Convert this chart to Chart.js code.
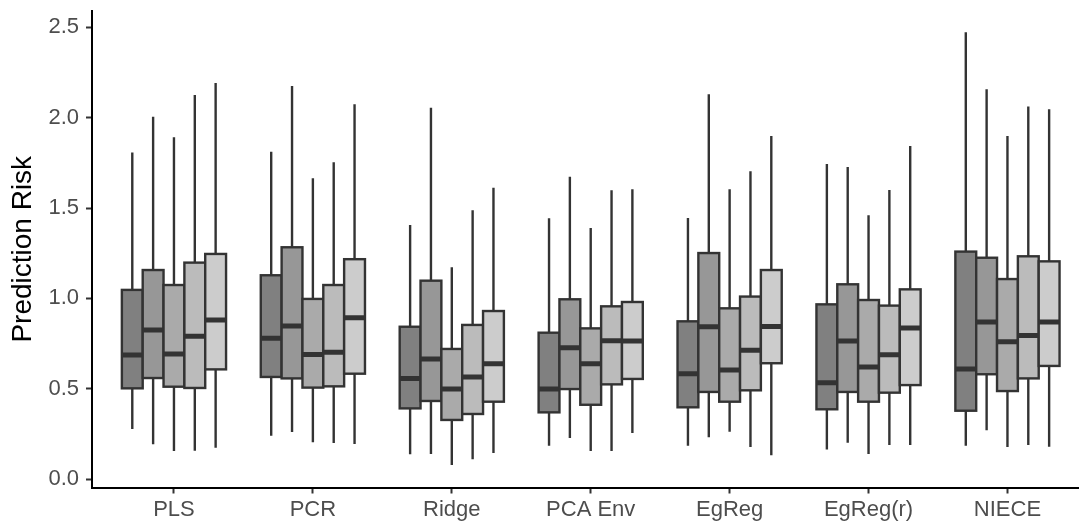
<!DOCTYPE html>
<html>
<head>
<meta charset="utf-8">
<script src="https://cdn.jsdelivr.net/npm/chart.js@4"></script>
<style>
  body { margin: 0; background: #fff; overflow: hidden; }
  #wrap { width: 1079px; height: 525px; }
</style>
</head>
<body>
<div id="wrap"><canvas id="chart" width="1079" height="525"></canvas></div>
<script>
// Methods on the x axis
const categories = ['PLS', 'PCR', 'Ridge', 'PCA Env', 'EgReg', 'EgReg(r)', 'NIECE'];
const yTicks = [0, 0.5, 1.0, 1.5, 2.0, 2.5];

// each entry: [lower whisker, Q1, median, Q3, upper whisker] per method
const series1 = [
  [0.277, 0.502, 0.687, 1.047, 1.807],
  [0.240, 0.565, 0.779, 1.128, 1.812],
  [0.137, 0.391, 0.557, 0.843, 1.406],
  [0.184, 0.369, 0.498, 0.810, 1.443],
  [0.184, 0.397, 0.583, 0.873, 1.445],
  [0.164, 0.386, 0.533, 0.967, 1.744],
  [0.184, 0.378, 0.609, 1.259, 2.473]
];
const series2 = [
  [0.192, 0.559, 0.825, 1.157, 2.006],
  [0.260, 0.557, 0.847, 1.283, 2.176],
  [0.138, 0.432, 0.664, 1.098, 2.056],
  [0.227, 0.498, 0.727, 0.995, 1.674],
  [0.231, 0.482, 0.843, 1.251, 2.130],
  [0.201, 0.482, 0.764, 1.078, 1.728],
  [0.270, 0.580, 0.869, 1.225, 2.158]
];
const series3 = [
  [0.155, 0.511, 0.692, 1.074, 1.892],
  [0.203, 0.506, 0.690, 0.997, 1.665],
  [0.078, 0.327, 0.498, 0.720, 1.172],
  [0.155, 0.411, 0.638, 0.834, 1.390],
  [0.262, 0.428, 0.604, 0.945, 1.604],
  [0.138, 0.428, 0.620, 0.991, 1.460],
  [0.177, 0.487, 0.760, 1.107, 1.899]
];
const series4 = [
  [0.157, 0.504, 0.790, 1.198, 2.126],
  [0.199, 0.513, 0.702, 1.074, 1.754],
  [0.109, 0.360, 0.565, 0.853, 1.488],
  [0.155, 0.524, 0.766, 0.956, 1.598],
  [0.177, 0.491, 0.713, 1.010, 1.704],
  [0.188, 0.478, 0.688, 0.960, 1.600],
  [0.188, 0.557, 0.794, 1.233, 2.062]
];
const series5 = [
  [0.173, 0.607, 0.880, 1.246, 2.193],
  [0.194, 0.583, 0.893, 1.217, 2.075],
  [0.144, 0.428, 0.638, 0.930, 1.613],
  [0.255, 0.554, 0.764, 0.980, 1.604],
  [0.131, 0.641, 0.845, 1.157, 1.899],
  [0.188, 0.520, 0.836, 1.050, 1.844],
  [0.179, 0.626, 0.869, 1.205, 2.047]
];

const allSeries = [series1, series2, series3, series4, series5];
const fills = ['#808080', '#979797', '#aaaaaa', '#bbbbbb', '#cccccc'];
const outline = '#333333';
const dodge = 0.75;               // total width of a group, in category units
const boxWidth = dodge / allSeries.length;

// build one dataset per series, points sit at the dodged x position
const datasets = allSeries.map((s, j) => ({
  label: 'Series ' + (j + 1),
  data: s.map((st, i) => ({
    x: i + 1 + (j - (allSeries.length - 1) / 2) * boxWidth,
    y: st[2],
    stats: st
  })),
  backgroundColor: fills[j],
  pointRadius: 0,
  pointHoverRadius: 0,
  showLine: false
}));

// draw the box plots through the chart scales
const boxPlugin = {
  id: 'boxes',
  beforeDatasetsDraw(chart) {
    const { ctx, chartArea, scales } = chart;
    const x = scales.x, y = scales.y;
    ctx.save();
    ctx.beginPath();
    ctx.rect(chartArea.left, chartArea.top, chartArea.width, chartArea.height);
    ctx.clip();
    chart.data.datasets.forEach(ds => {
      ds.data.forEach(pt => {
        const [lo, q1, med, q3, hi] = pt.stats;
        const cx = x.getPixelForValue(pt.x);
        const left = x.getPixelForValue(pt.x - boxWidth / 2);
        const right = x.getPixelForValue(pt.x + boxWidth / 2);
        const pLo = y.getPixelForValue(lo), pQ1 = y.getPixelForValue(q1);
        const pMed = y.getPixelForValue(med), pQ3 = y.getPixelForValue(q3);
        const pHi = y.getPixelForValue(hi);

        ctx.strokeStyle = outline;
        ctx.lineWidth = 2.4;
        ctx.lineCap = 'butt';
        // whiskers
        ctx.beginPath();
        ctx.moveTo(cx, pHi); ctx.lineTo(cx, pQ3);
        ctx.moveTo(cx, pQ1); ctx.lineTo(cx, pLo);
        ctx.stroke();
        // box
        ctx.fillStyle = ds.backgroundColor;
        ctx.fillRect(left, pQ3, right - left, pQ1 - pQ3);
        ctx.strokeRect(left, pQ3, right - left, pQ1 - pQ3);
        // median
        ctx.lineWidth = 5;
        ctx.beginPath();
        ctx.moveTo(left, pMed); ctx.lineTo(right, pMed);
        ctx.stroke();
      });
    });
    ctx.restore();
  }
};

const tickFont = { family: 'Liberation Sans, Arial, sans-serif', size: 22 };

new Chart(document.getElementById('chart'), {
  type: 'scatter',
  data: { datasets: datasets },
  options: {
    responsive: false,
    animation: false,
    devicePixelRatio: 1,
    layout: { padding: { top: 11, right: 0, left: 0, bottom: 0 } },
    plugins: {
      legend: { display: false },
      tooltip: { enabled: false }
    },
    scales: {
      x: {
        type: 'linear',
        min: 0.41,
        max: 7.515,
        afterBuildTicks: scale => { scale.ticks = categories.map((c, i) => ({ value: i + 1 })); },
        afterFit: scale => {
          scale.height = 37.5;
          scale.paddingLeft = 0;
          scale.paddingRight = 0;
        },
        ticks: {
          callback: v => categories[v - 1],
          color: '#4d4d4d',
          font: tickFont,
          padding: 3,
          autoSkip: false,
          maxRotation: 0
        },
        grid: {
          drawOnChartArea: false,
          drawTicks: true,
          tickLength: 6,
          tickColor: outline,
          tickWidth: 2
        },
        border: { display: true, color: '#000', width: 2 }
      },
      y: {
        type: 'linear',
        min: -0.047,
        max: 2.591,
        afterBuildTicks: scale => { scale.ticks = yTicks.map(v => ({ value: v })); },
        afterFit: scale => {
          scale.width = 92;
          scale.paddingTop = 0;
          scale.paddingBottom = 0;
        },
        ticks: {
          callback: v => v.toFixed(1),
          color: '#4d4d4d',
          font: tickFont,
          padding: 7
        },
        grid: {
          drawOnChartArea: false,
          drawTicks: true,
          tickLength: 6,
          tickColor: outline,
          tickWidth: 2
        },
        border: { display: true, color: '#000', width: 2 },
        title: {
          display: true,
          text: 'Prediction Risk',
          color: '#000',
          font: { family: 'Liberation Sans, Arial, sans-serif', size: 28 },
          padding: { top: 6, bottom: 0 }
        }
      }
    }
  },
  plugins: [boxPlugin]
});
</script>
</body>
</html>
